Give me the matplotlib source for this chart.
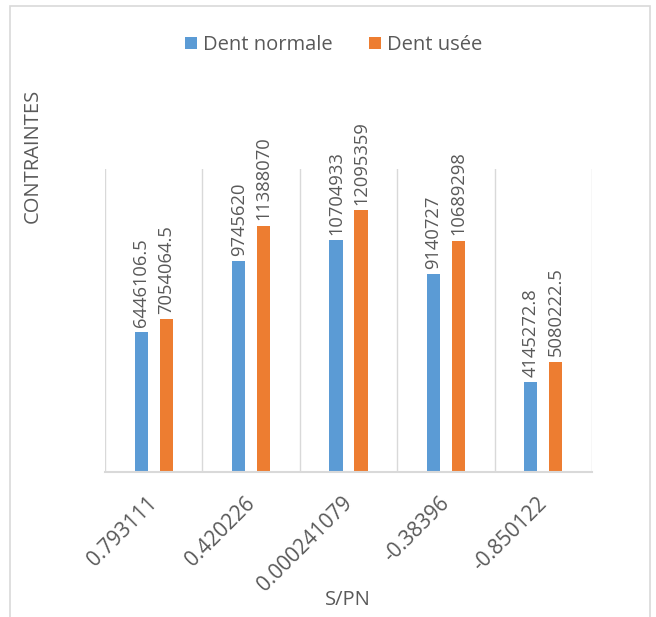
import matplotlib.pyplot as plt
import matplotlib.patches as mpatches
import matplotlib.transforms as mtransforms
import numpy as np

# S/PN ratio for each case and the stress computed for each tooth
categories = ['0.793111', '0.420226', '0.000241079', '-0.38396', '-0.850122']
dent_normale = [6446106.5, 9745620, 10704933, 9140727, 4145272.8]
dent_usee = [7054064.5, 11388070, 12095359, 10689298, 5080222.5]
value_labels_normale = ['6446106.5', '9745620', '10704933', '9140727', '4145272.8']
value_labels_usee = ['7054064.5', '11388070', '12095359', '10689298', '5080222.5']

BLUE = '#5B9BD5'
ORANGE = '#ED7D31'
TEXT = '#595959'
GRID = '#D9D9D9'

plt.rcParams['font.family'] = ['Open Sans', 'DejaVu Sans']

fig = plt.figure(figsize=(6.56, 6.17), dpi=100)
# thin frame round the whole chart (its bottom edge falls off the canvas)
fig.patches.append(mpatches.Rectangle((10 / 656, -0.05), 640 / 656, 1 - 6 / 617 + 0.05,
                                      transform=fig.transFigure, fill=False,
                                      edgecolor=GRID, linewidth=1.2))

ax = fig.add_axes([105 / 656, 1 - 472 / 617, 487 / 656, 303 / 617])
pos = np.arange(len(categories))
w = 0.135
off = 0.128
b1 = ax.bar(pos - off, dent_normale, w, color=BLUE, label='Dent normale')
b2 = ax.bar(pos + off, dent_usee, w, color=ORANGE, label='Dent usée')

for bars, labels in ((b1, value_labels_normale), (b2, value_labels_usee)):
    for rect, lab in zip(bars, labels):
        ax.annotate(lab, (rect.get_x() + rect.get_width() / 2, rect.get_height()),
                    xytext=(0, 4), textcoords='offset points', rotation=90,
                    ha='center', va='bottom', fontsize=13.2, color=TEXT)

ax.set_xlim(-0.5, len(categories) - 0.5)
ax.set_ylim(0, 14e6)
for x in np.arange(-0.5, len(categories), 1.0):
    ax.axvline(x, color=GRID, linewidth=1.0, zorder=0)

for side in ('top', 'right', 'left'):
    ax.spines[side].set_visible(False)
ax.spines['bottom'].set_color(GRID)
ax.spines['bottom'].set_linewidth(1.5)
ax.set_yticks([])
ax.set_xticks(pos)
ax.set_xticklabels(categories, rotation=45, ha='right', va='top',
                   rotation_mode='anchor', fontsize=15, color=TEXT)
ax.tick_params(axis='x', length=0, pad=15)
shift = mtransforms.ScaledTranslation(-7 / 100, 0, fig.dpi_scale_trans)
for lab in ax.get_xticklabels():
    lab.set_transform(lab.get_transform() + shift)

fig.text(348 / 656, 1 - 600 / 617, 'S/PN', ha='center', va='center',
         fontsize=14.5, color=TEXT)
fig.text(33 / 656, 1 - 156 / 617, 'CONTRAINTES', rotation=90, ha='center',
         va='center', fontsize=14.5, color=TEXT)

fig.legend(handles=[b1, b2], loc='center', bbox_to_anchor=(334 / 656, 1 - 45 / 617),
           ncol=2, frameon=False, fontsize=14.5, labelcolor=TEXT,
           handlelength=0.6, handleheight=0.6, handletextpad=0.3, columnspacing=1.8)

fig.savefig('out.png', dpi=100)
